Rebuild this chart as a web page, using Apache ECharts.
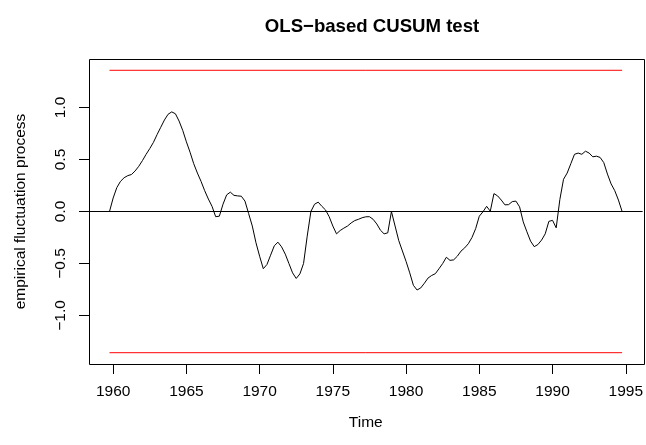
<!DOCTYPE html>
<html>
<head>
<meta charset="utf-8">
<title>OLS-based CUSUM test</title>
<script src="https://cdn.jsdelivr.net/npm/echarts@6/dist/echarts.min.js"></script>
<style>
  html, body { margin: 0; padding: 0; background: #fff; }
  #chart { width: 646px; height: 445px; }
</style>
</head>
<body>
<div id="chart"></div>
<script>
// quarterly time points of the process, 1959 Q4 .. 1994 Q4
const startYear = 1959.75;
const step = 0.25;

// empirical fluctuation process
const process = [
  0, 0.13, 0.23, 0.29, 0.325, 0.345, 0.356, 0.39, 0.435, 0.49,
  0.55, 0.605, 0.665, 0.74, 0.81, 0.88, 0.935, 0.958, 0.94, 0.87,
  0.78, 0.67, 0.57, 0.46, 0.37, 0.29, 0.2, 0.12, 0.05, -0.05,
  -0.045, 0.07, 0.16, 0.186, 0.155, 0.15, 0.147, 0.1, -0.02, -0.14,
  -0.3, -0.43, -0.55, -0.51, -0.42, -0.33, -0.295, -0.34, -0.41, -0.5,
  -0.59, -0.644, -0.6, -0.5, -0.237, 0.0, 0.07, 0.09, 0.05, 0.015,
  -0.05, -0.14, -0.215, -0.183, -0.16, -0.14, -0.11, -0.087, -0.075, -0.06,
  -0.051, -0.05, -0.075, -0.12, -0.18, -0.215, -0.205, 0.0, -0.14, -0.28,
  -0.38, -0.48, -0.59, -0.71, -0.755, -0.735, -0.69, -0.64, -0.615, -0.598,
  -0.55, -0.5, -0.44, -0.47, -0.465, -0.43, -0.381, -0.35, -0.31, -0.25,
  -0.165, -0.045, -0.003, 0.05, 0.003, 0.172, 0.15, 0.11, 0.064, 0.066,
  0.095, 0.1, 0.045, -0.1, -0.195, -0.285, -0.338, -0.318, -0.275, -0.215,
  -0.095, -0.085, -0.157, 0.115, 0.31, 0.37, 0.46, 0.55, 0.562, 0.55,
  0.58, 0.562, 0.526, 0.532, 0.52, 0.47, 0.36, 0.265, 0.2, 0.11,
  0
];

// 5% boundary of the OLS-CUSUM test
const boundary = 1.358;

const xTicks = [1960, 1965, 1970, 1975, 1980, 1985, 1990, 1995];
const yTicks = [-1, -0.5, 0, 0.5, 1];

const times = process.map((v, i) => startYear + i * step);
const lineData = process.map((v, i) => [times[i], v]);
const tEnd = times[times.length - 1];

// R style: 4% padding around the data range
const xPad = (tEnd - startYear) * 0.04;
const yPad = 2 * boundary * 0.04;

const fmtY = v => (v < 0 ? '\u2212' : '') + Math.abs(v).toFixed(1);

const font = 'Liberation Sans, Arial, Helvetica, sans-serif';

// plot region (pixels), the box is drawn round it
const gLeft = 89, gRight = 1, gTop = 59, gBottom = 81;
const boxW = 646 - gLeft - gRight, boxH = 445 - gTop - gBottom;

const myChart = echarts.init(document.getElementById('chart'));
const option = {
    animation: false,
    title: {
        text: 'OLS\u2212based CUSUM test',
        left: 367,
        textAlign: 'center',
        top: 12,
        textStyle: { fontFamily: font, fontSize: 18.6, fontWeight: 'bold', color: '#000' }
    },
    grid: { left: gLeft, right: gRight, top: gTop, bottom: gBottom },
    graphic: {
        elements: [
            {
                // box round the plot region
                type: 'polyline',
                z: 100,
                silent: true,
                shape: {
                    points: [
                        [gLeft + 0.5, gTop + 0.5], [gLeft + boxW - 0.5, gTop + 0.5],
                        [gLeft + boxW - 0.5, gTop + boxH + 0.5], [gLeft + 0.5, gTop + boxH + 0.5],
                        [gLeft + 0.5, gTop + 0.5]
                    ]
                },
                style: { stroke: '#000000', lineWidth: 1, fill: 'none' }
            }
        ]
    },
    xAxis: {
        type: 'value',
        min: startYear - xPad,
        max: tEnd + xPad,
        name: 'Time',
        nameLocation: 'middle',
        nameGap: 51,
        nameTextStyle: { fontFamily: font, fontSize: 15.5, color: '#000' },
        splitLine: { show: false },
        axisLine: { show: false, onZero: false },
        axisTick: {
            show: true, inside: false, length: 10,
            customValues: xTicks,
            lineStyle: { color: '#000', width: 1 }
        },
        axisLabel: {
            customValues: xTicks,
            margin: 20,
            fontFamily: font, fontSize: 15.5, color: '#000',
            formatter: v => String(v)
        }
    },
    yAxis: {
        type: 'value',
        min: -boundary - yPad,
        max: boundary + yPad,
        name: 'empirical fluctuation process',
        nameLocation: 'middle',
        nameRotate: 90,
        nameGap: 60,
        nameTextStyle: { fontFamily: font, fontSize: 15.5, color: '#000' },
        splitLine: { show: false },
        axisLine: { show: false, onZero: false },
        axisTick: {
            show: true, inside: false, length: 10,
            customValues: yTicks,
            lineStyle: { color: '#000', width: 1 }
        },
        axisLabel: {
            customValues: yTicks,
            rotate: 90,
            margin: 20,
            fontFamily: font, fontSize: 15.5, color: '#000',
            formatter: fmtY
        }
    },
    series: [
        {
            name: 'upper',
            type: 'line',
            data: [[startYear, boundary], [tEnd, boundary]],
            showSymbol: false,
            lineStyle: { color: '#ff0000', width: 1 },
            silent: true
        },
        {
            name: 'lower',
            type: 'line',
            data: [[startYear, -boundary], [tEnd, -boundary]],
            showSymbol: false,
            lineStyle: { color: '#ff0000', width: 1 },
            silent: true
        },
        {
            name: 'process',
            type: 'line',
            data: lineData,
            showSymbol: false,
            lineStyle: { color: '#000', width: 1 },
            markLine: {
                silent: true,
                symbol: 'none',
                label: { show: false },
                lineStyle: { color: '#000', width: 1, type: 'solid' },
                data: [{ yAxis: 0 }]
            }
        }
    ]
};
myChart.setOption(option);
</script>
</body>
</html>
